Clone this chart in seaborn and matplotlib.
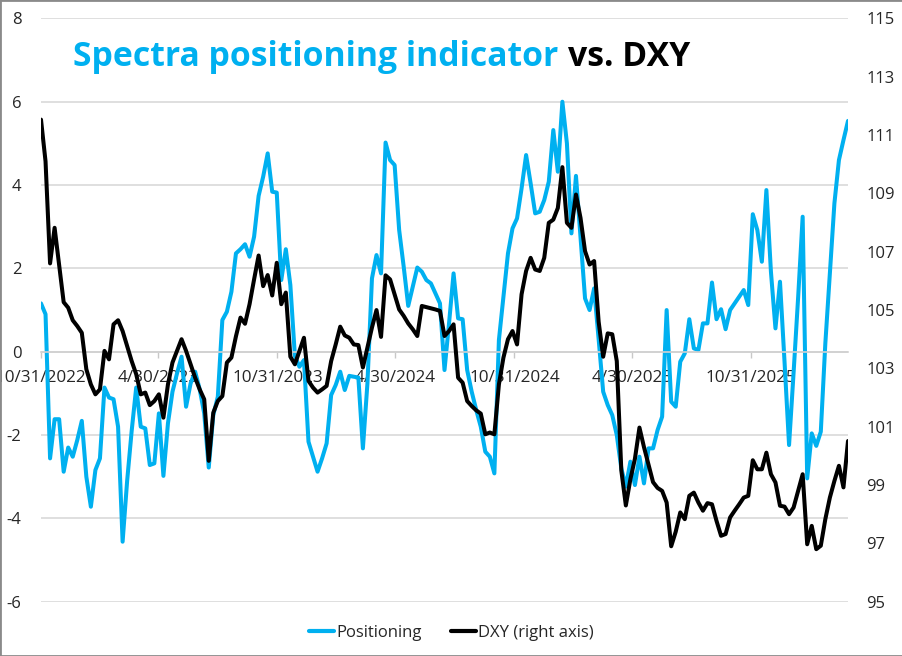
import numpy as np
import pandas as pd
import matplotlib
matplotlib.use("Agg")
import matplotlib.pyplot as plt
from matplotlib.lines import Line2D
from matplotlib.patches import Rectangle
import seaborn as sns

# weekly readings
dates = pd.date_range("2022-10-31", periods=179, freq="7D")

positioning = [
    1.16, 0.9, -2.56, -1.62, -1.62, -2.88, -2.3, -2.52, -2.12, -1.66,
    -3.0, -3.72, -2.84, -2.56, -0.86, -1.1, -1.14, -1.8, -4.56, -3.1,
    -1.9, -0.86, -1.8, -1.84, -2.72, -2.68, -1.48, -2.98, -1.72, -0.96,
    -0.52, -0.12, -1.32, -0.76, -0.48, -0.9, -1.48, -2.78, -1.52, -1.08,
    0.76, 0.96, 1.44, 2.36, 2.46, 2.58, 2.28, 2.76, 3.74, 4.2,
    4.76, 3.84, 3.82, 1.72, 2.46, 1.6, -0.1, -0.36, -0.2, -2.16,
    -2.52, -2.88, -2.56, -2.2, -1.04, -0.8, -0.48, -0.92, -0.58, -0.6,
    -0.62, -2.32, -0.76, 1.76, 2.32, 1.88, 5.02, 4.6, 4.48, 2.92,
    2.04, 1.1, 1.56, 2.02, 1.92, 1.72, 1.64, 1.4, 1.16, -0.44,
    0.68, 1.88, 0.8, 0.78, -0.44, -0.96, -1.4, -1.8, -2.4, -2.52,
    -2.92, 0.28, 1.32, 2.36, 2.96, 3.2, 3.92, 4.72, 4.04, 3.32,
    3.36, 3.64, 4.08, 5.32, 4.32, 6.0, 5.0, 2.84, 4.22, 2.76,
    1.28, 1.0, 1.52, 0.3, -0.96, -1.28, -1.52, -2.0, -2.8, -3.24,
    -2.64, -3.2, -2.52, -3.16, -2.32, -2.32, -1.88, -1.56, 1.0, -1.2,
    -1.32, -0.24, -0.04, 0.78, 0.08, 0.04, 0.68, 0.68, 1.66, 0.78,
    1.02, 0.54, 1.0, 1.16, 1.32, 1.48, 1.12, 3.3, 2.92, 2.16,
    3.88, 1.92, 0.56, 1.68, -0.24, -2.24, -0.5, 1.3, 3.24, -3.04,
    -1.96, -2.26, -1.92, 0.2, 1.88, 3.56, 4.6, 5.08, 5.54,
]

dxy = [
    111.53, 110.1, 106.6, 107.82, 106.56, 105.27, 105.08, 104.65, 104.45, 104.22,
    102.97, 102.45, 102.11, 102.28, 103.6, 103.31, 104.51, 104.65, 104.28, 103.77,
    103.25, 102.8, 102.11, 102.17, 101.74, 101.88, 102.11, 101.31, 102.45, 103.2,
    103.6, 104.0, 103.6, 103.14, 102.68, 102.28, 101.94, 99.83, 101.48, 101.88,
    102.05, 103.2, 103.37, 104.1, 104.74, 104.53, 105.2, 106.05, 106.87, 105.82,
    106.2, 105.5, 106.62, 105.2, 105.6, 103.4, 103.14, 103.6, 104.05, 102.57,
    102.34, 102.17, 102.28, 102.4, 103.25, 103.82, 104.43, 104.13, 104.05, 103.82,
    103.8, 103.03, 103.71, 104.4, 105.0, 104.08, 106.19, 106.05, 105.54, 105.02,
    104.8, 104.54, 104.34, 104.11, 105.14, 105.1, 105.06, 105.02, 104.97, 104.11,
    104.28, 104.51, 102.68, 102.51, 101.88, 101.71, 101.56, 101.45, 100.74, 100.8,
    100.74, 102.45, 103.37, 104.0, 104.28, 103.82, 105.54, 106.34, 106.79, 106.39,
    106.34, 106.79, 107.99, 108.1, 108.5, 109.9, 107.99, 107.82, 108.96, 108.16,
    107.02, 106.56, 106.68, 104.6, 103.4, 104.2, 104.17, 103.25, 99.5, 98.3,
    99.2, 99.9, 100.97, 100.3, 99.7, 99.1, 98.9, 98.8, 98.4, 96.9,
    97.4, 98.06, 97.83, 98.63, 98.74, 98.4, 98.12, 98.38, 98.34, 97.77,
    97.26, 97.32, 97.89, 98.12, 98.34, 98.57, 98.63, 99.85, 99.54, 99.54,
    100.11, 99.37, 99.09, 98.29, 98.26, 98.0, 98.23, 98.8, 99.37, 96.97,
    97.6, 96.8, 96.92, 97.83, 98.57, 99.14, 99.66, 98.92, 100.51,
]

tick_dates = ["2022-10-31", "2023-04-30", "2023-10-31", "2024-04-30",
              "2024-10-31", "2025-04-30", "2025-10-31"]
tick_labels = ["10/31/2022", "4/30/2023", "10/31/2023", "4/30/2024",
               "10/31/2024", "4/30/2025", "10/31/2025"]
left_ticks = [-6, -4, -2, 0, 2, 4, 6, 8]
right_ticks = [95, 97, 99, 101, 103, 105, 107, 109, 111, 113, 115]

BLUE = "#00B0F0"
TXT = "#262626"

sns.set_theme(style="white")
plt.rcParams["font.family"] = ["Open Sans", "DejaVu Sans"]

df = pd.DataFrame({"date": dates, "Positioning": positioning, "DXY": dxy})

fig = plt.figure(figsize=(9.03, 6.56), dpi=100)
ax = fig.add_axes([41 / 903, 1 - 601.7 / 656, 807 / 903, (601.7 - 18.4) / 656])
ax2 = ax.twinx()

sns.lineplot(data=df, x="date", y="Positioning", ax=ax, color=BLUE, lw=2.9)
sns.lineplot(data=df, x="date", y="DXY", ax=ax2, color="black", lw=2.9)

ax.set_xlim(dates[0], dates[-1])
ax.set_ylim(-6, 8)
ax2.set_ylim(95, 115)
ax.set_xlabel("")
ax.set_ylabel("")
ax2.set_ylabel("")

ax.set_yticks(left_ticks)
ax.set_yticklabels([str(v) for v in left_ticks])
ax2.set_yticks(right_ticks)
ax2.set_yticklabels([str(v) for v in right_ticks])
ax.grid(axis="y", color="#d9d9d9", lw=1.2)
ax.grid(axis="x", visible=False)
ax.set_axisbelow(True)

for s in ["top", "left", "right"]:
    ax.spines[s].set_visible(False)
for s in ax2.spines.values():
    s.set_visible(False)
ax.spines["bottom"].set_position(("data", 0))
ax.spines["bottom"].set_color("#d0d0d0")
ax.spines["bottom"].set_linewidth(1.2)

ax.set_xticks(pd.to_datetime(tick_dates))
ax.set_xticklabels(tick_labels)
ax.tick_params(axis="x", direction="out", length=4, width=1, color="#c8c8c8",
               pad=9, labelsize=12.3, labelcolor=TXT, bottom=True)
ax.tick_params(axis="y", length=0, pad=14, labelsize=12, labelcolor=TXT)
ax2.tick_params(axis="y", length=0, pad=13, labelsize=12, labelcolor=TXT)

# title in two colours
fig.canvas.draw()
r = fig.canvas.get_renderer()
t1 = fig.text(73 / 903, 1 - 66 / 656, "Spectra positioning indicator", color=BLUE,
              fontsize=24.3, fontweight="bold", va="baseline", ha="left")
bb = t1.get_window_extent(renderer=r)
fig.text(bb.x1 / fig.bbox.width + 10 / 903, 1 - 66 / 656, "vs. DXY", color="black",
         fontsize=24.3, fontweight="bold", va="baseline", ha="left")

handles = [Line2D([], [], color=BLUE, lw=3), Line2D([], [], color="black", lw=3)]
fig.legend(handles, ["Positioning", "DXY (right axis)"], loc="center",
           bbox_to_anchor=(0.5, 1 - 633 / 656), ncol=2, frameon=False,
           fontsize=12, handlelength=1.5, handletextpad=0.1, columnspacing=1.8,
           labelcolor=TXT)

fig.patches.append(Rectangle((0, 0), 1, 1, transform=fig.transFigure, fill=False,
                             edgecolor="#8a8a8a", lw=2, zorder=10))

fig.savefig("out.png", dpi=100)
